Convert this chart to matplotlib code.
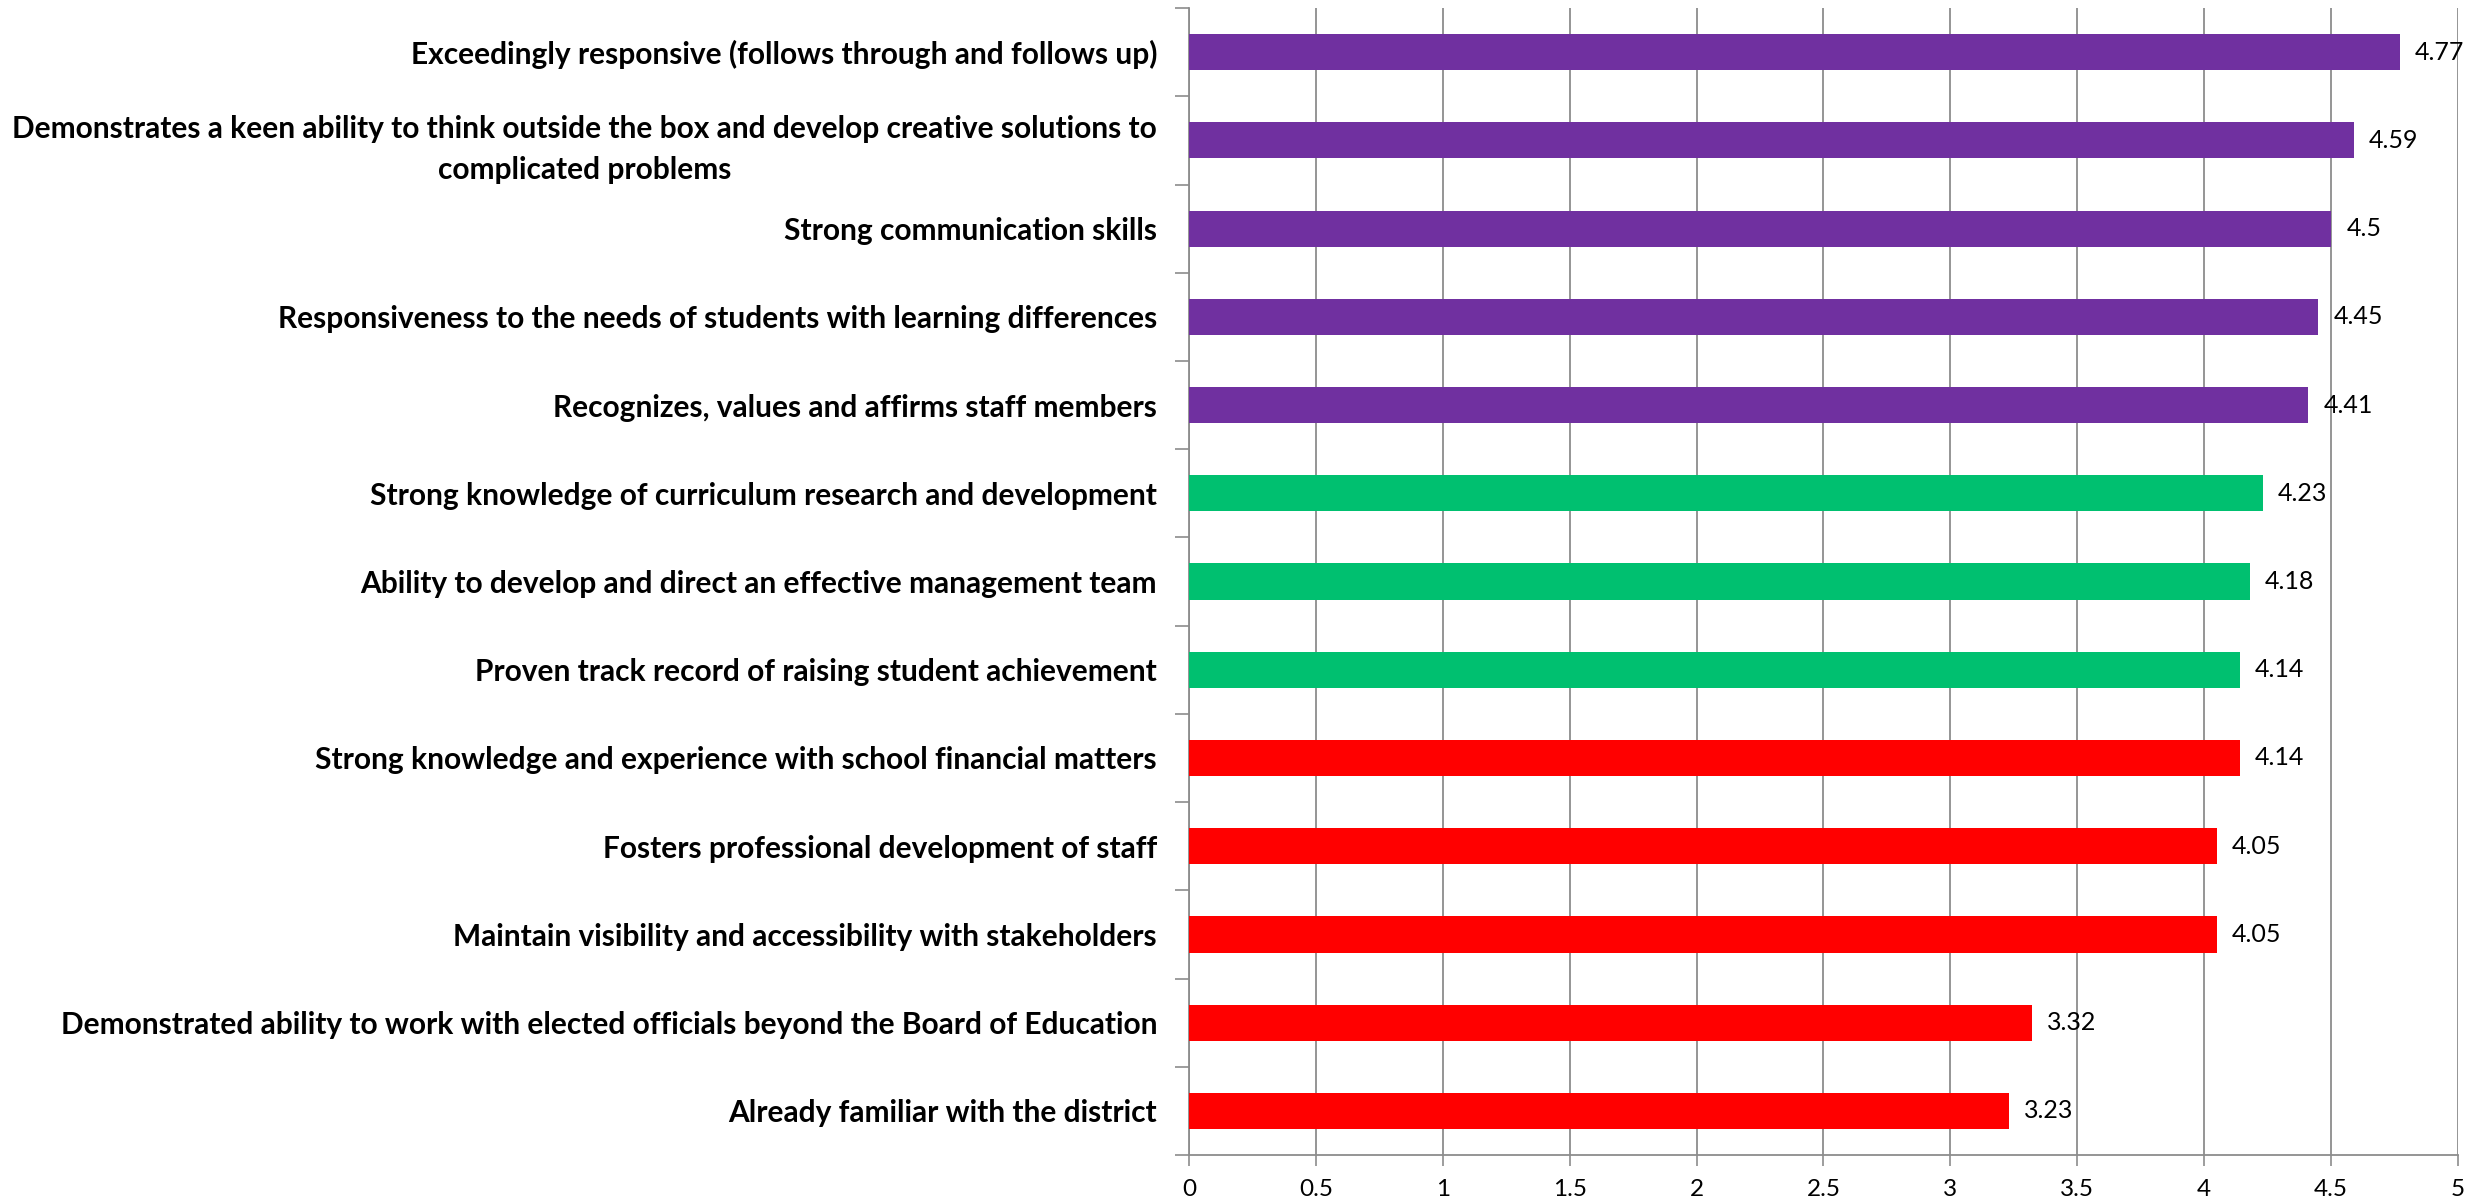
import matplotlib
matplotlib.use("Agg")
import matplotlib.pyplot as plt
import numpy as np

categories = [
    "Exceedingly responsive (follows through and follows up)",
    "Demonstrates a keen ability to think outside the box and develop creative solutions to\ncomplicated problems",
    "Strong communication skills",
    "Responsiveness to the needs of students with learning differences",
    "Recognizes, values and affirms staff members",
    "Strong knowledge of curriculum research and development",
    "Ability to develop and direct an effective management team",
    "Proven track record of raising student achievement",
    "Strong knowledge and experience with school financial matters",
    "Fosters professional development of staff",
    "Maintain visibility and accessibility with stakeholders",
    "Demonstrated ability to work with elected officials beyond the Board of Education",
    "Already familiar with the district",
]
values = [4.77, 4.59, 4.5, 4.45, 4.41, 4.23, 4.18, 4.14, 4.14, 4.05, 4.05, 3.32, 3.23]
groups = ["purple"] * 5 + ["green"] * 3 + ["red"] * 5
group_colors = {"purple": "#7030A0", "green": "#00C070", "red": "#FF0000"}
xticks = [0, 0.5, 1, 1.5, 2, 2.5, 3, 3.5, 4, 4.5, 5]
xticklabels = ["0", "0.5", "1", "1.5", "2", "2.5", "3", "3.5", "4", "4.5", "5"]

plt.rcParams["font.family"] = ["Lato", "DejaVu Sans"]

fig = plt.figure(figsize=(24.86, 12.02), dpi=100)
ax = fig.add_axes([0.4783, 0.0391, 0.9887 - 0.4783, 0.9933 - 0.0391])

n = len(categories)
y = np.arange(n)
colors = [group_colors[g] for g in groups]
ax.barh(y, values, height=0.41, color=colors, zorder=3)

ax.set_ylim(n - 0.5, -0.5)
ax.set_xlim(0, 5)

# category labels
ax.set_yticks(y)
labels = ax.set_yticklabels(categories, fontsize=21.5, fontweight="bold", ha="right",
                            multialignment="center")
for lab in labels:
    lab.set_linespacing(1.55)
ax.tick_params(axis="y", which="major", length=0, pad=23)
ax.set_yticks(np.arange(n + 1) - 0.5, minor=True)
ax.tick_params(axis="y", which="minor", length=10, width=1.2, color="#8c8c8c", direction="out")

ax.set_xticks(xticks)
ax.set_xticklabels(xticklabels, fontsize=17.5)
ax.tick_params(axis="x", which="major", length=8, width=1.2, color="#8c8c8c", pad=9)

ax.grid(axis="x", color="#8c8c8c", linewidth=1.3, zorder=0)
ax.set_axisbelow(True)
for s in ["top", "right"]:
    ax.spines[s].set_visible(False)
for s in ["left", "bottom"]:
    ax.spines[s].set_color("#8c8c8c")
    ax.spines[s].set_linewidth(1.3)

for yi, v in zip(y, values):
    ax.annotate(f"{v:g}", xy=(v, yi), xytext=(11, 0), textcoords="offset points",
                va="center", ha="left", fontsize=18, color="black")

fig.savefig("out.png", dpi=100)
